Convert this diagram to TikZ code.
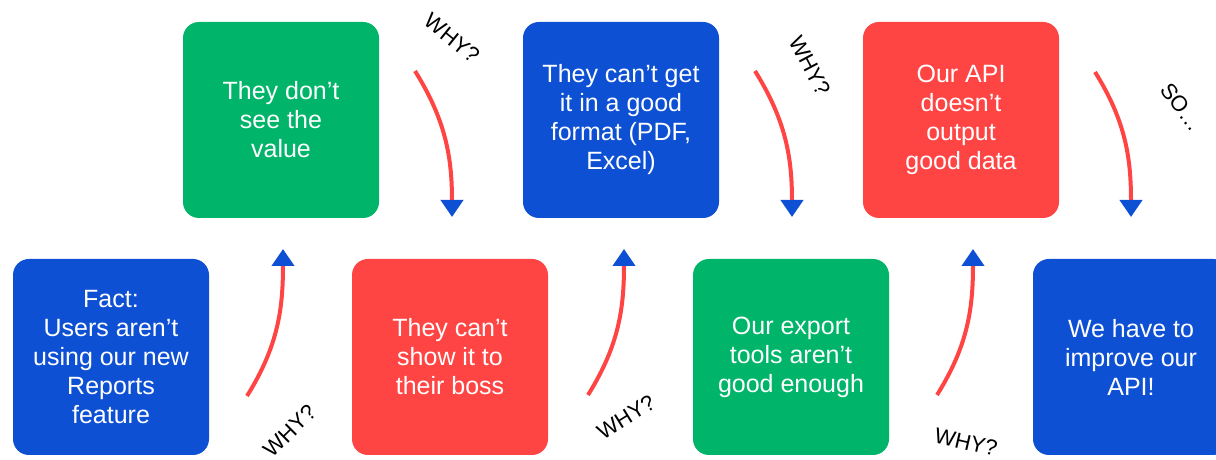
\documentclass[tikz,border=0pt]{standalone}
\usepackage{fontspec}
\setmainfont{Liberation Sans}
\usepackage{tikz}
\usetikzlibrary{arrows.meta,positioning}
\definecolor{colorblue}{HTML}{0D50D4}
\definecolor{colorgreen}{HTML}{00B56A}
\definecolor{colorred}{HTML}{FF4444}
\tikzset{
  box/.style={minimum size=196pt, inner sep=0pt, rounded corners=16pt, align=center,
    text=white, font=\fontsize{25}{29}\selectfont},
  boxblue/.style={box, fill=colorblue},
  boxgreen/.style={box, fill=colorgreen},
  boxred/.style={box, fill=colorred},
  edgewhy/.style={colorred, line width=4pt,
    -{Triangle[width=22pt,length=17pt,color=colorblue]}},
  why/.style={font=\fontsize{22}{24}\selectfont, inner sep=0pt}
}

\begin{document}
\begin{tikzpicture}[x=1pt, y=1pt]
\useasboundingbox (0,0) rectangle (1216,460);
% boxes
\node[boxblue]  (a) at (111,103)  {Fact:\\Users aren’t\\using our new\\Reports\\feature};
\node[boxgreen] (b) at (281,340)  {They don’t\\see the\\value};
\node[boxred]   (c) at (450,103)  {They can’t\\show it to\\their boss};
\node[boxblue]  (d) at (621,340)  {They can’t get\\it in a good\\format (PDF,\\Excel)};
\node[boxgreen] (e) at (791,103)  {Our export\\tools aren’t\\good enough};
\node[boxred]   (f) at (961,340)  {Our API\\doesn’t\\output\\good data};
\node[boxblue]  (g) at (1131,103) {We have to\\improve our\\API!};
% arrow ends
\coordinate (sa) at (247,64);   \coordinate (ta) at (283,211);
\coordinate (sb) at (415,389);  \coordinate (tb) at (452,243);
\coordinate (sc) at (588,65);   \coordinate (tc) at (624,211);
\coordinate (sd) at (755,389);  \coordinate (td) at (792,243);
\coordinate (se) at (937,65);   \coordinate (te) at (973,211);
\coordinate (sf) at (1095,388); \coordinate (tf) at (1131,243);
\draw[edgewhy] (sa) to [out=58, in=-90] (ta);
\draw[edgewhy] (sb) to [out=-58, in=90] (tb);
\draw[edgewhy] (sc) to [out=58, in=-90] (tc);
\draw[edgewhy] (sd) to [out=-58, in=90] (td);
\draw[edgewhy] (se) to [out=58, in=-90] (te);
\draw[edgewhy] (sf) to [out=-58, in=90] (tf);
% labels
\node[why, rotate=45]  (wa) at (290,29)  {WHY?};
\node[why, rotate=-39] (wb) at (452,422) {WHY?};
\node[why, rotate=32]  (wc) at (626,43)  {WHY?};
\node[why, rotate=-62] (wd) at (810,394) {WHY?};
\node[why, rotate=-13] (we) at (966,18)  {WHY?};
\node[why, rotate=-53] (wf) at (1182,353) {SO…};
\end{tikzpicture}
\end{document}
